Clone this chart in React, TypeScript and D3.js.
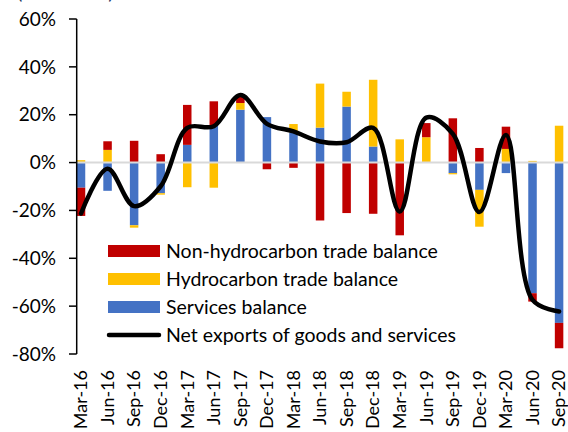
import * as d3 from 'd3';
import React from 'react';

// quarterly contributions, %
const quarters = ["Mar-16", "Jun-16", "Sep-16", "Dec-16", "Mar-17", "Jun-17", "Sep-17", "Dec-17",
  "Mar-18", "Jun-18", "Sep-18", "Dec-18", "Mar-19", "Jun-19", "Sep-19", "Dec-19", "Mar-20", "Jun-20", "Sep-20"];
const services = [-10.5, -11.8, -26.2, -12.8, 7.4, 15.4, 22.1, 19.0, 12.6, 14.6, 23.4, 6.7, 0, 0, -4.4, -11.4, -4.4, -54.6, -67.0];
const hydrocarbon = [1.0, 5.3, -1.0, -0.6, -10.3, -10.5, 2.8, 0, 3.5, 18.4, 6.2, 27.9, 9.7, 10.6, -0.5, -15.4, 5.7, 0.7, 15.4];
const nonHydrocarbon = [-11.8, 3.6, 9.1, 3.5, 16.7, 10.2, 2.5, -2.8, -2.2, -24.2, -21.1, -21.4, -30.4, 5.9, 18.5, 6.1, 9.3, -3.5, -10.6];
const netExports = [-21.3, -2.6, -18.2, -9.9, 14.5, 15.2, 28.2, 16.2, 13.0, 8.8, 8.5, 14.5, -20.5, 18.8, 12.0, -20.7, 11.5, -57.4, -62.2];
const yTicks = [60, 40, 20, 0, -20, -40, -60, -80];

const seriesKeys = ["services", "hydrocarbon", "nonHydrocarbon"];
const colors = { services: "#4472C4", hydrocarbon: "#FFC000", nonHydrocarbon: "#C00000" };
const legendItems = [
  { label: "Non-hydrocarbon trade balance", key: "nonHydrocarbon" },
  { label: "Hydrocarbon trade balance", key: "hydrocarbon" },
  { label: "Services balance", key: "services" },
];

const W = 568, H = 432;
const FONT = "Lato, 'Open Sans', sans-serif";

export default function App() {
  const rows = quarters.map((q, i) => ({
    q, services: services[i], hydrocarbon: hydrocarbon[i], nonHydrocarbon: nonHydrocarbon[i],
  }));

  const axisX = 76.7;
  const step = 26.56;
  const x = d3.scaleBand().domain(quarters)
    .range([81 - step / 2, 81 - step / 2 + step * quarters.length])
    .paddingInner(0.68).paddingOuter(0.34);
  const y = d3.scaleLinear().domain([-80, 60]).range([354, 19]);

  const stacked = d3.stack().keys(seriesKeys).offset(d3.stackOffsetDiverging)(rows as any);

  const cx = (q: string) => (x(q) as number) + x.bandwidth() / 2;
  // excel-ish smoothing
  const line = d3.line<number>()
    .x((_, i) => cx(quarters[i]))
    .y((d) => y(d))
    .curve(d3.curveCatmullRom.alpha(0.5));

  return (
    <svg width={W} height={H} style={{ position: "absolute", left: 0, top: 0, background: "#fff" }}
      fontFamily={FONT}>
      {/* cut-off title above the plot */}
      <text x={17} y={-1} fontSize={20} fill="#1F3864">(% of GDP)</text>

      {/* bars */}
      {stacked.map((s) => (
        <g key={s.key}>
          {s.map((d, i) => (
            <rect key={i} x={x(quarters[i])} width={x.bandwidth()}
              y={y(Math.max(d[0], d[1]))} height={Math.abs(y(d[0]) - y(d[1]))}
              fill={(colors as any)[s.key]} />
          ))}
        </g>
      ))}

      {/* zero line */}
      <line x1={axisX} x2={W} y1={y(0)} y2={y(0)} stroke="#D9D9D9" strokeWidth={2} />

      {/* y axis */}
      <line x1={axisX} x2={axisX} y1={y(60)} y2={y(-80)} stroke="#000" strokeWidth={1.5} />
      {yTicks.map((t) => (
        <g key={t}>
          <line x1={69} x2={axisX} y1={y(t)} y2={y(t)} stroke="#000" strokeWidth={1.5} />
          <text x={56} y={y(t)} dy="0.35em" textAnchor="end" fontSize={19} fill="#000">{t}%</text>
        </g>
      ))}

      {/* net exports line */}
      <path d={line(netExports) as string} fill="none" stroke="#000" strokeWidth={4.5}
        strokeLinejoin="round" strokeLinecap="round" />

      {/* x labels */}
      {quarters.map((q) => (
        <text key={q} transform={`translate(${cx(q)},370) rotate(-90)`} dy="0.35em"
          textAnchor="end" fontSize={18} fill="#000">{q}</text>
      ))}

      {/* legend */}
      {legendItems.map((it, i) => (
        <g key={it.key} transform={`translate(108,${251 + i * 28})`}>
          <rect x={0} y={-6} width={52} height={12} fill={(colors as any)[it.key]} />
          <text x={58} y={0} dy="0.35em" fontSize={19.5} fill="#000">{it.label}</text>
        </g>
      ))}
      <g transform={`translate(108,${251 + 3 * 28})`}>
        <line x1={1} x2={51} y1={0} y2={0} stroke="#000" strokeWidth={4.5} strokeLinecap="round" />
        <text x={58} y={0} dy="0.35em" fontSize={19.5} fill="#000">Net exports of goods and services</text>
      </g>
    </svg>
  );
}
